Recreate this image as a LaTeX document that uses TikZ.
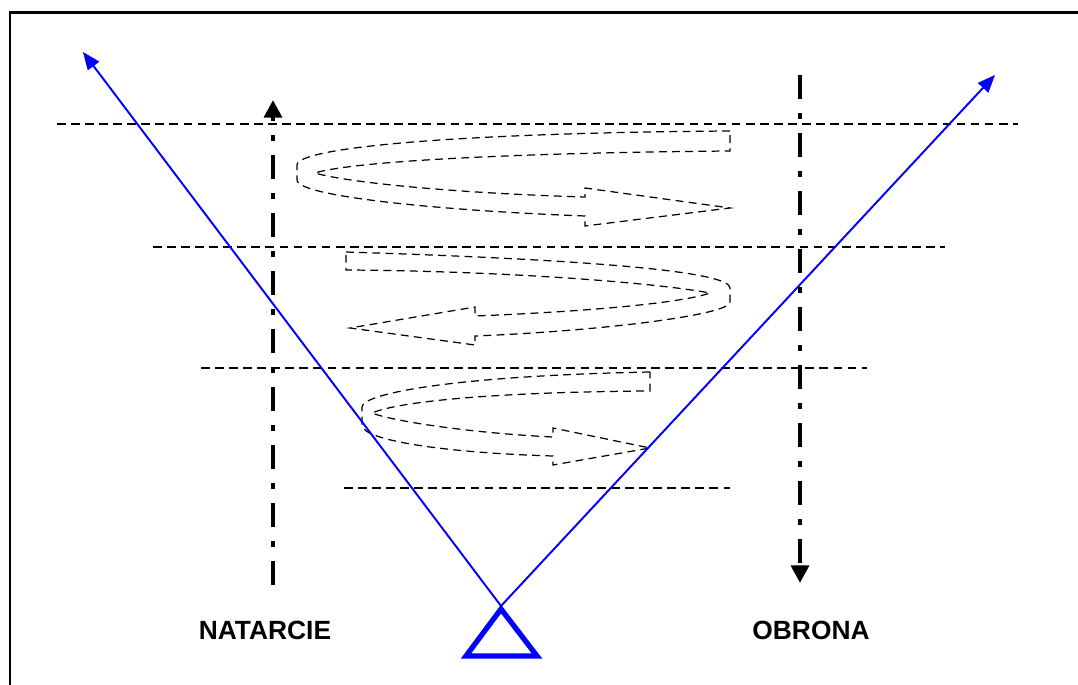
\documentclass[tikz,border=0pt]{standalone}
\usepackage{fontspec}
\setsansfont{Liberation Sans}
\usetikzlibrary{arrows.meta}

\begin{document}
\begin{tikzpicture}[x=0.02cm, y=-0.02cm,
  font=\sffamily\bfseries\fontsize{15}{18}\selectfont,
  frame/.style={line width=1.7pt},
  level/.style={line width=0.8pt, dash pattern=on 5pt off 3pt},
  turn/.style={line width=0.7pt, dash pattern=on 4.5pt off 3pt},
  front/.style={line width=2.6pt, dash pattern=on 13.6pt off 8pt on 3.4pt off 8pt,
                -{Triangle[length=10pt,width=10pt]}},
  sight/.style={blue, line width=1.1pt, -{Triangle[length=10pt,width=8pt]}},
  lab/.style={inner sep=0pt}]
  \useasboundingbox (0,0) rectangle (1078,685);

  % frame
  \draw[frame] (10,685) -- (10,13) -- (1078,13);

  % levels
  \foreach \y/\a/\b in {124/57/1018, 247/153/945, 368/201/867, 488/344/730}
    \draw[level] (\a,\y) -- (\b,\y);

  % turning arrows
  \draw[turn] (730,131) .. controls (450,133) and (297,148) .. (297,165)
    -- (297,180) .. controls (297,197) and (450,211) .. (585,216)
    -- (585,226) -- (730,208) -- (585,188) -- (585,197)
    .. controls (450,193) and (345,182) .. (315,173)
    .. controls (350,162) and (500,153) .. (730,151) -- cycle;
  \draw[turn] (346,252) .. controls (600,260) and (730,272) .. (730,288)
    -- (730,302) .. controls (730,315) and (600,331) .. (475,336)
    -- (475,345) -- (350,328) -- (475,307) -- (475,316)
    .. controls (600,311) and (685,302) .. (710,293)
    .. controls (650,282) and (500,271) .. (346,270) -- cycle;
  \draw[turn] (650,372) .. controls (450,376) and (362,394) .. (362,407)
    -- (362,425) .. controls (362,441) and (450,453) .. (553,456)
    -- (553,465) -- (650,448) -- (553,428) -- (553,437)
    .. controls (470,433) and (392,421) .. (372,413)
    .. controls (400,401) and (500,392) .. (650,391) -- cycle;

  % observer
  \coordinate (apex) at (501,606);
  \coordinate (ltip) at (83,52);
  \coordinate (rtip) at (995,75);
  \draw[sight] (apex) -- (ltip);
  \draw[sight] (apex) -- (rtip);
  \draw[blue, line width=3pt] (501,609) -- (537,656) -- (466,656) -- cycle;

  % directions
  \coordinate (natbot) at (273,585);
  \coordinate (nattop) at (273,100);
  \coordinate (obrtop) at (800,75);
  \coordinate (obrbot) at (800,583);
  \draw[front] (natbot) -- (nattop);
  \draw[front] (obrtop) -- (obrbot);

  \node[lab] (natarcie) at (265,630) {NATARCIE};
  \node[lab] (obrona)   at (811,630) {OBRONA};
\end{tikzpicture}
\end{document}
